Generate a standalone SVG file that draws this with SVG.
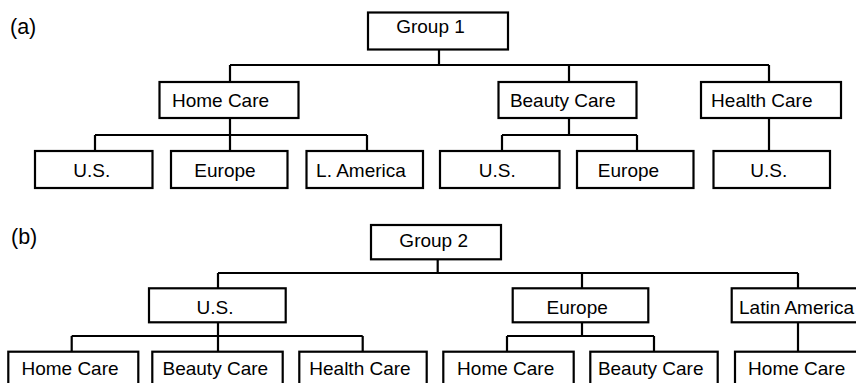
<svg xmlns="http://www.w3.org/2000/svg" width="856" height="383" viewBox="0 0 856 383">
<style>
rect{fill:#fff;stroke:#000;stroke-width:2.2}
text{font-family:"Liberation Sans",Arial,sans-serif;font-size:19px;fill:#000;text-anchor:middle}
.lbl{text-anchor:start}
.tag{text-anchor:start;font-size:21.5px}
#connectors path{fill:none;stroke:#000;stroke-width:2.2}
</style>
<rect x="0" y="0" width="856" height="383" style="stroke:none"/>
<text class="tag" x="10" y="34">(a)</text>
<text class="tag" x="11" y="244">(b)</text>
<g id="connectors">
<path d="M439,49V65M230,65H769M230,65V82M569,65V82M769,65V82"/>
<path d="M230,118V135M95,135H367M95,135V151M230,135V151M367,135V151"/>
<path d="M569,118V135M502,135H637M502,135V151M637,135V151"/>
<path d="M769,118V151"/>
<path d="M437.7,259V273M218,273H798M218,273V288M582,273V288M798,273V288"/>
<path d="M218,322V336M71.7,336H362.7M71.7,336V352M218,336V352M362.7,336V352"/>
<path d="M582,322V336M507,336H654M507,336V352M654,336V352"/>
<path d="M798,322V352"/>
</g>
<g id="a-group1"><rect x="368" y="12.5" width="140" height="37"/><text x="430.5" y="33">Group 1</text></g>
<g id="a-homecare"><rect x="159.5" y="82" width="139" height="36"/><text x="220.5" y="107">Home Care</text></g>
<g id="a-beautycare"><rect x="498.5" y="82" width="138" height="36"/><text x="562.7" y="107">Beauty Care</text></g>
<g id="a-healthcare"><rect x="701" y="82" width="140" height="36"/><text x="761.8" y="107">Health Care</text></g>
<g id="a-hc-us"><rect x="35" y="151" width="117.5" height="37"/><text x="91.7" y="177">U.S.</text></g>
<g id="a-hc-europe"><rect x="171" y="151" width="116.5" height="37"/><text x="225" y="177">Europe</text></g>
<g id="a-hc-lamerica"><rect x="306.5" y="151" width="116.5" height="37"/><text x="361" y="177">L. America</text></g>
<g id="a-bc-us"><rect x="440" y="151" width="119.5" height="37"/><text x="497.3" y="177">U.S.</text></g>
<g id="a-bc-europe"><rect x="577" y="151" width="116.5" height="37"/><text x="628.5" y="177">Europe</text></g>
<g id="a-hl-us"><rect x="713.5" y="151" width="116.5" height="37"/><text x="768.8" y="177">U.S.</text></g>
<g id="b-group2"><rect x="371" y="225" width="130" height="34.3"/><text x="433.7" y="246.7">Group 2</text></g>
<g id="b-us"><rect x="149" y="288.3" width="136.7" height="34"/><text x="215" y="314">U.S.</text></g>
<g id="b-europe"><rect x="512.7" y="288.3" width="135.6" height="34"/><text x="577.2" y="314">Europe</text></g>
<g id="b-latinamerica"><rect x="731.7" y="288.3" width="140" height="34"/><text class="lbl" x="739" y="314">Latin America</text></g>
<g id="b-us-home"><rect x="8.3" y="351.7" width="130" height="40"/><text x="70" y="375">Home Care</text></g>
<g id="b-us-beauty"><rect x="152.3" y="351.7" width="130.4" height="40"/><text x="215.3" y="375">Beauty Care</text></g>
<g id="b-us-health"><rect x="299.3" y="351.7" width="127.4" height="40"/><text x="360" y="375">Health Care</text></g>
<g id="b-eu-home"><rect x="443.3" y="351.7" width="130.4" height="40"/><text x="505.7" y="375">Home Care</text></g>
<g id="b-eu-beauty"><rect x="590.3" y="351.7" width="127.4" height="40"/><text x="650.7" y="375">Beauty Care</text></g>
<g id="b-la-home"><rect x="735" y="351.7" width="140" height="40"/><text x="796.7" y="375">Home Care</text></g>
</svg>
